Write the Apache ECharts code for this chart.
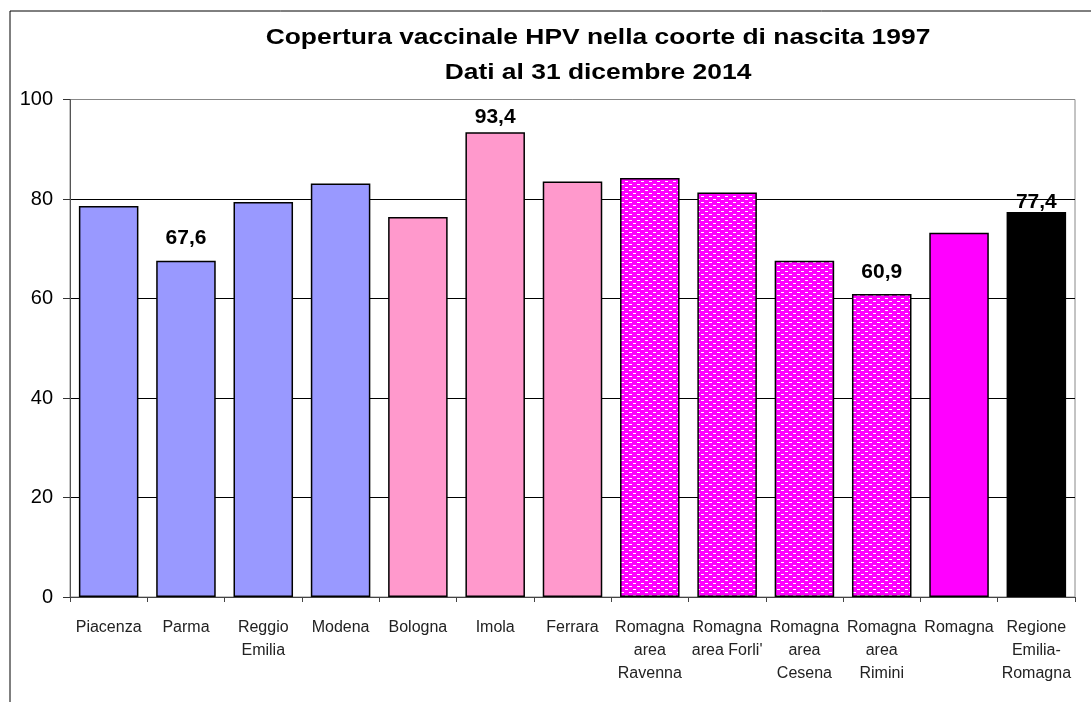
<!DOCTYPE html>
<html>
<head>
<meta charset="utf-8">
<script src="https://cdn.jsdelivr.net/npm/echarts@6/dist/echarts.min.js"></script>
<style>
  html, body { margin: 0; padding: 0; background: #fff; }
  #chart { width: 1091px; height: 702px; }
</style>
</head>
<body>
<div id="chart"></div>
<script>
// dati copertura vaccinale HPV, coorte 1997
const categories = ['Piacenza', 'Parma', 'Reggio\nEmilia', 'Modena', 'Bologna', 'Imola', 'Ferrara',
  'Romagna\narea\nRavenna', "Romagna\narea Forli'", 'Romagna\narea\nCesena', 'Romagna\narea\nRimini',
  'Romagna', 'Regione\nEmilia-\nRomagna'];
const values = [78.6, 67.6, 79.4, 83.1, 76.4, 93.4, 83.5, 84.2, 81.3, 67.6, 60.9, 73.2, 77.4];
// gruppo colore per barra: 0 = AUSL Emilia, 1 = Bologna area, 2 = Romagna aree, 3 = Romagna, 4 = Regione
const groups = [0, 0, 0, 0, 1, 1, 1, 2, 2, 2, 2, 3, 4];
const shownLabels = [1, 5, 10, 12];
const labelGap = { 1: 12, 5: 5, 10: 11, 12: -1 };
const yTicks = [0, 20, 40, 60, 80, 100];

// trama magenta con trattini bianchi
function makePattern() {
  const c = document.createElement('canvas');
  c.width = 8;
  c.height = 6;
  const ctx = c.getContext('2d');
  ctx.fillStyle = '#FF00FF';
  ctx.fillRect(0, 0, 8, 6);
  ctx.fillStyle = '#ffffff';
  ctx.fillRect(1, 1, 3, 1);
  ctx.fillRect(5, 4, 3, 1);
  return c;
}

const fills = ['#9999FF', '#FF99CC', { image: makePattern(), repeat: 'repeat' }, '#FF00FF', '#000000'];

const chart = echarts.init(document.getElementById('chart'));

const option = {
  animation: false,
  backgroundColor: '#fff',
  textStyle: { fontFamily: 'Arial, "Liberation Sans", sans-serif' },
  graphic: [
    {
      type: 'rect',
      shape: { x: 10, y: 11, width: 1200, height: 800 },
      style: { fill: 'none', stroke: '#000', lineWidth: 1 },
      silent: true
    },
    {
      type: 'text',
      x: 598,
      y: 20,
      scaleX: 1.2,
      style: {
        text: 'Copertura vaccinale HPV nella coorte di nascita 1997\nDati al 31 dicembre 2014',
        fill: '#000',
        font: 'bold 22px Arial, "Liberation Sans", sans-serif',
        align: 'center',
        lineHeight: 35
      }
    }
  ],
  grid: {
    left: 70,
    right: 16,
    top: 99.5,
    bottom: 105,
    show: true,
    borderColor: '#888',
    borderWidth: 1
  },
  xAxis: {
    type: 'category',
    data: categories,
    axisLine: { lineStyle: { color: '#444', width: 1 } },
    axisTick: { show: true, length: 5, lineStyle: { color: '#444' } },
    axisLabel: {
      interval: 0,
      fontSize: 16,
      lineHeight: 23,
      color: '#222',
      margin: 19
    }
  },
  yAxis: {
    type: 'value',
    min: yTicks[0],
    max: yTicks[yTicks.length - 1],
    interval: 20,
    axisLine: { show: true, lineStyle: { color: '#555', width: 1 } },
    axisTick: { show: true, length: 7, lineStyle: { color: '#333' } },
    axisLabel: { fontSize: 20, color: '#000', margin: 17 },
    splitLine: {
      lineStyle: { color: ['#000', '#000', '#000', '#000', '#000', '#888'], width: 1 }
    }
  },
  series: [{
    type: 'bar',
    barCategoryGap: '23%',
    data: values.map((v, i) => ({
      value: v,
      itemStyle: {
        color: fills[groups[i]],
        borderColor: '#000',
        borderWidth: 1.5
      },
      label: {
        show: shownLabels.includes(i),
        position: 'top',
        distance: labelGap[i] || 0,
        fontSize: 21,
        fontWeight: 'bold',
        color: '#000',
        formatter: p => String(p.value).replace('.', ',')
      }
    }))
  }]
};

chart.setOption(option);
</script>
</body>
</html>
